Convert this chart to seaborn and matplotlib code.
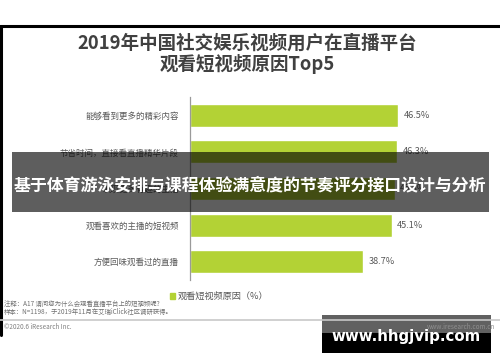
import matplotlib
matplotlib.use("Agg")
import matplotlib.pyplot as plt
import matplotlib.patches as mpatches
from matplotlib.lines import Line2D
import pandas as pd
import seaborn as sns

# Данные графика
reasons = [
    "能够看到更多的精彩内容",
    "节省时间，直接看直播精华片段",
    "发现更多有趣的主播",
    "观看喜欢的主播的短视频",
    "方便回味观看过的直播",
]
shares = [46.5, 46.3, 45.8, 45.1, 38.7]
value_labels = ["46.5%", "46.3%", "45.8%", "45.1%", "38.7%"]

title_text = "2019年中国社交娱乐视频用户在直播平台\n观看短视频原因Top5"
legend_text = "观看短视频原因（%）"
note_lines = [
    "注释：A17 请问您为什么会观看直播平台上的短视频呢?",
    "样本：N=1198，于2019年11月在艾瑞iClick社区调研获得。",
]
copyright_text = "©2020.6 iResearch Inc."
site_text = "www.iresearch.com.cn"
banner_text = "基于体育游泳安排与课程体验满意度的节奏评分接口设计与分析"
watermark_text = "www.hhgjvip.com"

sns.set_theme(style="white")
plt.rcParams["font.family"] = ["Noto Sans CJK SC", "DejaVu Sans"]

W, H = 500, 362
BAR_GREEN = "#B3D235"
GRAY_TXT = "#595959"


def fx(px):
    return px / W


def fy(py):
    return 1 - py / H


df = pd.DataFrame({"reason": reasons, "share": shares})

fig = plt.figure(figsize=(5, 3.62), dpi=100)
fig.patch.set_facecolor("white")

# рамка слайда
fig.add_artist(Line2D([0, 1], [fy(26), fy(26)], color="black", lw=2.2))
fig.add_artist(Line2D([fx(1), fx(1)], [fy(26), fy(335)], color="black", lw=2.2))

ax = fig.add_axes([fx(190), fy(280), fx(470) - fx(190), fy(97) - fy(280)])
sns.barplot(data=df, x="share", y="reason", orient="h", color=BAR_GREEN,
            saturation=1, width=0.63, ax=ax)
ax.set_xlim(0, 62.6)
ax.set_ylim(4.5, -0.5)
ax.set_xlabel("")
ax.set_ylabel("")
ax.set_xticks([])
for side in ["top", "right", "bottom"]:
    ax.spines[side].set_visible(False)
ax.spines["left"].set_color("#9a9a9a")
ax.spines["left"].set_linewidth(0.9)
ax.tick_params(axis="y", length=0, pad=8, labelsize=6.1, labelcolor=GRAY_TXT)
ax.set_facecolor("none")

for i, (v, lab) in enumerate(zip(shares, value_labels)):
    ax.text(v + 1.2, i, lab, va="center", ha="left", fontsize=6.6, color=GRAY_TXT)

fig.text(0.494, fy(54), title_text, ha="center", va="center", fontsize=13.3,
         fontweight="bold", color="#404040", linespacing=1.12)

# легенда
fig.add_artist(mpatches.Rectangle((fx(170), fy(299)), fx(5), fy(293) - fy(299),
                                  color=BAR_GREEN))
fig.text(fx(178), fy(296), legend_text, ha="left", va="center", fontsize=6.6,
         color=GRAY_TXT)

fig.text(fx(4), fy(304), note_lines[0], ha="left", va="center", fontsize=4.6,
         color="#707070")
fig.text(fx(4), fy(312), note_lines[1], ha="left", va="center", fontsize=4.6,
         color="#707070")
fig.add_artist(Line2D([0, 1], [fy(320), fy(320)], color="#c8c8c8", lw=1.2))
fig.text(fx(4), fy(327), copyright_text, ha="left", va="center", fontsize=4.6,
         color="#808080")
fig.text(fx(495), fy(327), site_text, ha="right", va="center", fontsize=4.6,
         color="#909090")

# полупрозрачная плашка поверх графика
fig.add_artist(mpatches.Rectangle((fx(12), fy(212)), fx(489) - fx(12),
                                  fy(152) - fy(212), color="black", alpha=0.63,
                                  lw=0))
fig.text(fx(250), fy(185), banner_text, ha="center", va="center", fontsize=12.2,
         fontweight="bold", color="white")

# водяной знак
fig.add_artist(mpatches.Rectangle((fx(322), fy(333)), fx(491) - fx(322),
                                  fy(315) - fy(333), color="black", alpha=0.62,
                                  lw=0))
fig.add_artist(mpatches.Rectangle((fx(322), fy(353)), fx(491) - fx(322),
                                  fy(333) - fy(353), color="black", lw=0))
fig.text(fx(406), fy(337), watermark_text, ha="center", va="center",
         fontsize=10.8, fontweight="bold", color="white", family="DejaVu Sans")

fig.savefig("out.png", dpi=100, facecolor="white")
